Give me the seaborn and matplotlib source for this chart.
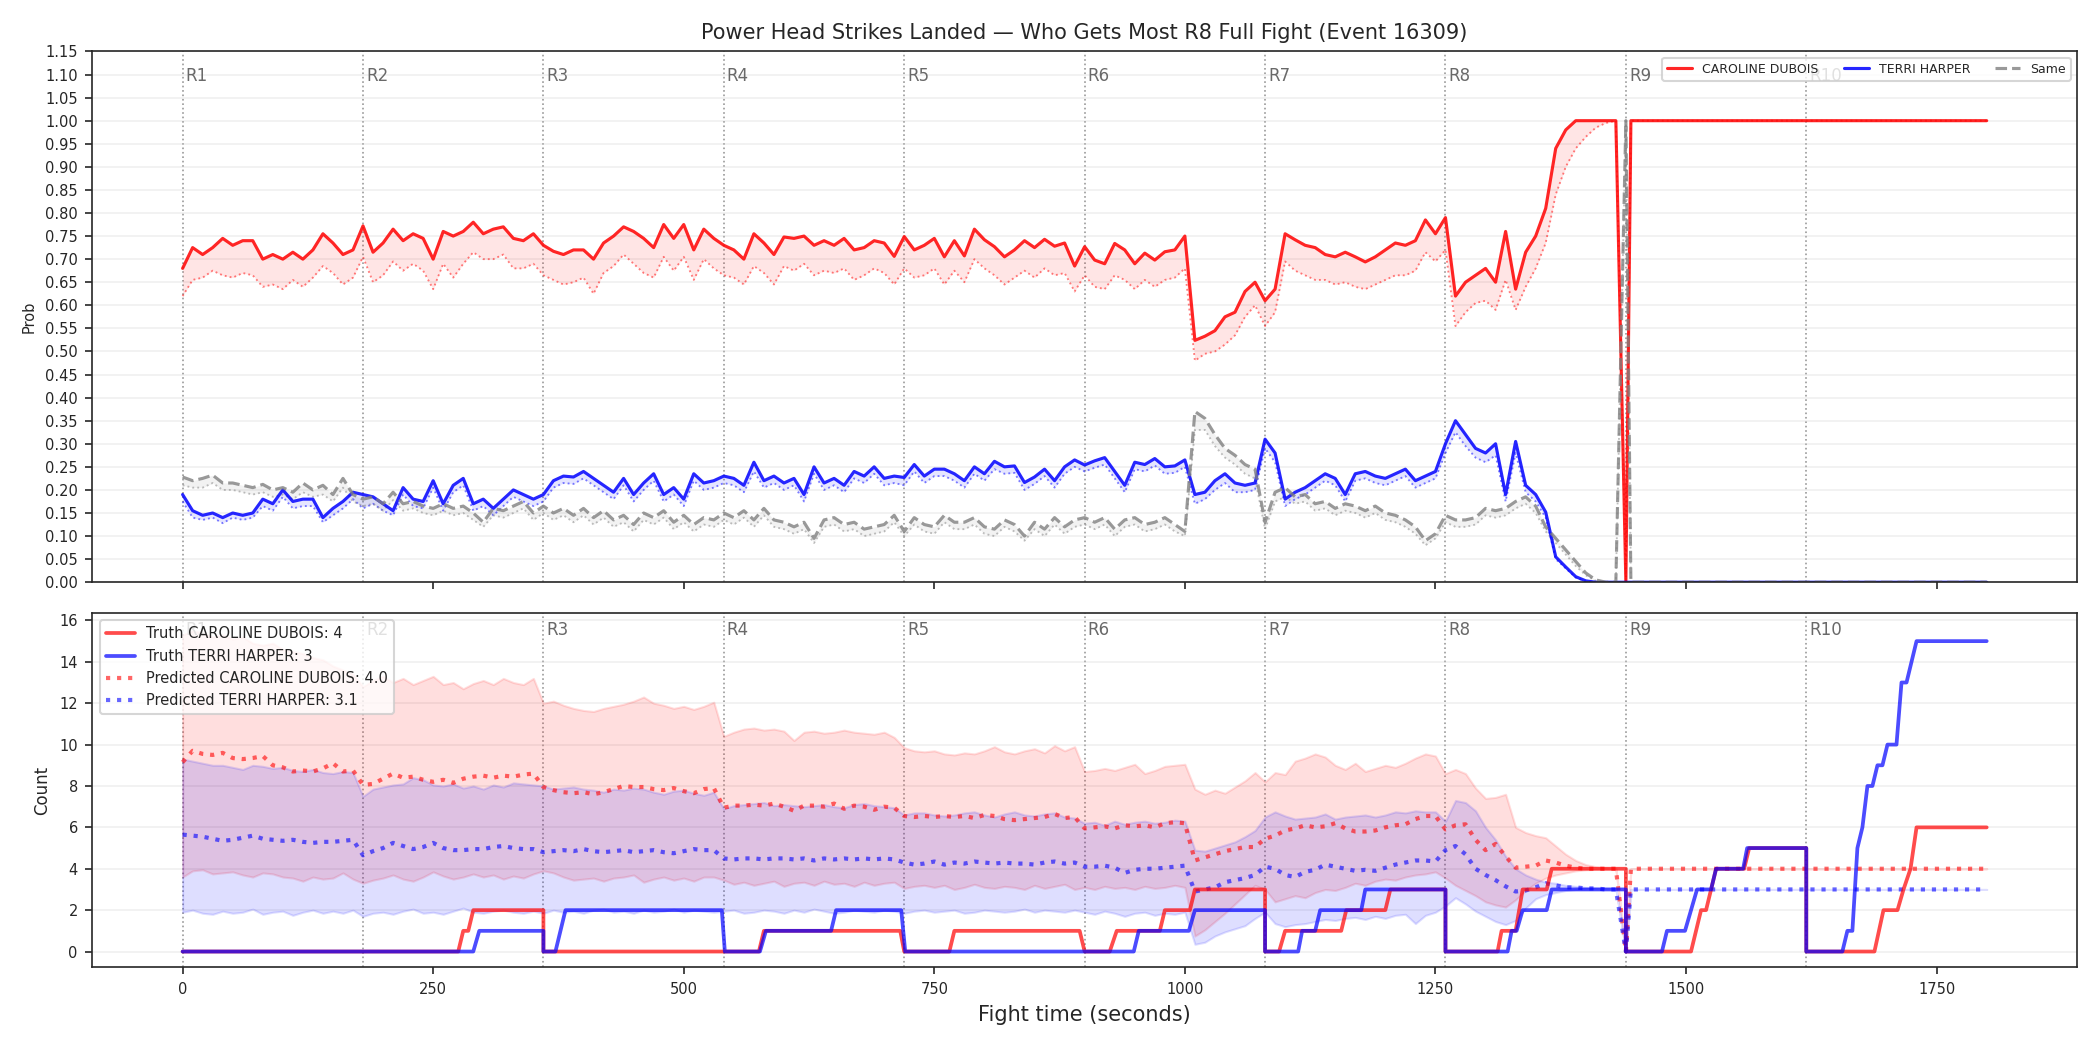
import numpy as np
import pandas as pd
import matplotlib
matplotlib.use("Agg")
import matplotlib.pyplot as plt
import matplotlib.transforms as mtransforms
from matplotlib.lines import Line2D
import seaborn as sns

# ---------------- data ----------------
TITLE = "Power Head Strikes Landed \u2014 Who Gets Most R8 Full Fight (Event 16309)"
FIGHTER_A = "CAROLINE DUBOIS"
FIGHTER_B = "TERRI HARPER"
SAME_LABEL = "Same"
TRUTH_FINAL_A = 4
TRUTH_FINAL_B = 3
PRED_FINAL_A = 4.0
PRED_FINAL_B = 3.1

round_labels = ["R1", "R2", "R3", "R4", "R5", "R6", "R7", "R8", "R9", "R10"]
round_starts = [0, 180, 360, 540, 720, 900, 1080, 1260, 1440, 1620]

# sample times (seconds): every 10 s up to 1440, then the settled tail
sample_times = list(range(0, 1441, 10)) + [1445, 1800]

# --- top panel: probabilities ---
prob_a = [
    0.68, 0.725, 0.71, 0.725, 0.745, 0.73, 0.74, 0.74, 0.70, 0.71, 0.70, 0.715, 0.70, 0.72, 0.755, 0.735, 0.71, 0.72,
    0.772, 0.715, 0.735, 0.765, 0.74, 0.755, 0.745, 0.70, 0.76, 0.75, 0.76, 0.78, 0.755, 0.765, 0.77, 0.745, 0.74, 0.755,
    0.73, 0.717, 0.71, 0.72, 0.72, 0.70, 0.735, 0.75, 0.77, 0.76, 0.745, 0.725, 0.775, 0.745, 0.775, 0.72, 0.765, 0.745,
    0.73, 0.72, 0.70, 0.755, 0.735, 0.71, 0.748, 0.745, 0.75, 0.73, 0.74, 0.73, 0.745, 0.72, 0.725, 0.74, 0.735, 0.706,
    0.749, 0.72, 0.73, 0.745, 0.705, 0.74, 0.707, 0.765, 0.742, 0.727, 0.705, 0.72, 0.74, 0.725, 0.743, 0.728, 0.735, 0.685,
    0.727, 0.698, 0.69, 0.734, 0.72, 0.69, 0.713, 0.698, 0.716, 0.72, 0.75, 0.524, 0.533, 0.545, 0.575, 0.585, 0.63, 0.65,
    0.61, 0.635, 0.755, 0.742, 0.73, 0.725, 0.71, 0.705, 0.715, 0.705, 0.694, 0.705, 0.72, 0.735, 0.73, 0.74, 0.785, 0.755,
    0.79, 0.62, 0.65, 0.665, 0.68, 0.65, 0.76, 0.635, 0.715, 0.75, 0.81, 0.94, 0.98, 1.0, 1.0, 1.0, 1.0, 1.0, 0.0,
    1.0, 1.0]
prob_a_low = [
    0.62, 0.655, 0.66, 0.675, 0.665, 0.66, 0.67, 0.665, 0.64, 0.645, 0.635, 0.655, 0.64, 0.66, 0.685, 0.67, 0.645, 0.66,
    0.705, 0.65, 0.665, 0.695, 0.675, 0.69, 0.675, 0.635, 0.69, 0.66, 0.69, 0.715, 0.70, 0.70, 0.71, 0.68, 0.68, 0.69,
    0.665, 0.655, 0.645, 0.65, 0.66, 0.625, 0.67, 0.685, 0.71, 0.69, 0.67, 0.66, 0.705, 0.675, 0.705, 0.655, 0.70, 0.68,
    0.665, 0.66, 0.645, 0.685, 0.67, 0.645, 0.685, 0.675, 0.69, 0.665, 0.675, 0.67, 0.68, 0.655, 0.665, 0.68, 0.67, 0.645,
    0.68, 0.66, 0.665, 0.68, 0.645, 0.675, 0.65, 0.70, 0.68, 0.665, 0.645, 0.66, 0.675, 0.66, 0.68, 0.665, 0.67, 0.63,
    0.665, 0.64, 0.635, 0.665, 0.655, 0.635, 0.655, 0.64, 0.655, 0.66, 0.68, 0.48, 0.495, 0.50, 0.515, 0.535, 0.575, 0.60,
    0.555, 0.585, 0.695, 0.675, 0.665, 0.655, 0.655, 0.645, 0.65, 0.64, 0.635, 0.645, 0.655, 0.665, 0.665, 0.675, 0.715, 0.695,
    0.72, 0.555, 0.585, 0.605, 0.61, 0.59, 0.655, 0.59, 0.64, 0.68, 0.735, 0.84, 0.90, 0.94, 0.965, 0.985, 0.995, 1.0, 0.0,
    1.0, 1.0]
prob_b = [
    0.19, 0.155, 0.145, 0.15, 0.14, 0.15, 0.145, 0.15, 0.18, 0.17, 0.20, 0.175, 0.18, 0.18, 0.14, 0.16, 0.175, 0.195,
    0.19, 0.185, 0.17, 0.155, 0.205, 0.18, 0.175, 0.22, 0.17, 0.21, 0.225, 0.17, 0.18, 0.16, 0.18, 0.20, 0.19, 0.18,
    0.19, 0.22, 0.23, 0.228, 0.24, 0.225, 0.21, 0.195, 0.225, 0.19, 0.215, 0.235, 0.19, 0.205, 0.18, 0.235, 0.215, 0.22,
    0.23, 0.225, 0.21, 0.26, 0.22, 0.23, 0.215, 0.225, 0.19, 0.25, 0.215, 0.225, 0.21, 0.24, 0.23, 0.25, 0.225, 0.23,
    0.227, 0.255, 0.23, 0.245, 0.245, 0.235, 0.22, 0.25, 0.235, 0.262, 0.25, 0.252, 0.216, 0.228, 0.245, 0.22, 0.25, 0.265,
    0.254, 0.263, 0.27, 0.24, 0.21, 0.26, 0.255, 0.268, 0.25, 0.252, 0.265, 0.19, 0.195, 0.22, 0.235, 0.215, 0.21, 0.215,
    0.31, 0.28, 0.18, 0.195, 0.205, 0.22, 0.235, 0.225, 0.19, 0.235, 0.24, 0.23, 0.225, 0.235, 0.245, 0.22, 0.23, 0.24,
    0.30, 0.35, 0.32, 0.29, 0.28, 0.30, 0.19, 0.305, 0.21, 0.19, 0.152, 0.055, 0.033, 0.012, 0.003, 0.0, 0.0, 0.0, 0.0,
    0.0, 0.0]
prob_b_low = [
    0.175, 0.14, 0.135, 0.14, 0.128, 0.14, 0.135, 0.14, 0.165, 0.155, 0.185, 0.16, 0.165, 0.165, 0.13, 0.145, 0.16, 0.18,
    0.16, 0.17, 0.155, 0.145, 0.19, 0.165, 0.16, 0.205, 0.155, 0.195, 0.21, 0.155, 0.165, 0.145, 0.165, 0.185, 0.175, 0.165,
    0.175, 0.205, 0.215, 0.213, 0.225, 0.21, 0.195, 0.18, 0.21, 0.175, 0.20, 0.22, 0.175, 0.19, 0.165, 0.22, 0.20, 0.205,
    0.215, 0.21, 0.195, 0.24, 0.205, 0.215, 0.20, 0.21, 0.175, 0.235, 0.20, 0.21, 0.195, 0.225, 0.215, 0.235, 0.21, 0.215,
    0.21, 0.24, 0.215, 0.23, 0.23, 0.22, 0.205, 0.235, 0.22, 0.245, 0.235, 0.237, 0.20, 0.213, 0.23, 0.205, 0.235, 0.25,
    0.24, 0.248, 0.255, 0.225, 0.195, 0.245, 0.24, 0.253, 0.235, 0.237, 0.25, 0.17, 0.18, 0.20, 0.215, 0.195, 0.195, 0.20,
    0.29, 0.26, 0.165, 0.18, 0.19, 0.205, 0.22, 0.21, 0.175, 0.22, 0.225, 0.215, 0.21, 0.22, 0.23, 0.205, 0.215, 0.225,
    0.28, 0.325, 0.295, 0.27, 0.26, 0.275, 0.175, 0.28, 0.195, 0.175, 0.14, 0.05, 0.03, 0.01, 0.002, 0.0, 0.0, 0.0, 0.0,
    0.0, 0.0]
prob_same = [
    0.228, 0.22, 0.225, 0.232, 0.215, 0.215, 0.21, 0.205, 0.212, 0.20, 0.205, 0.195, 0.215, 0.20, 0.21, 0.19, 0.225, 0.19,
    0.18, 0.185, 0.17, 0.195, 0.17, 0.175, 0.165, 0.16, 0.17, 0.16, 0.165, 0.15, 0.13, 0.16, 0.155, 0.165, 0.175, 0.15,
    0.165, 0.15, 0.16, 0.145, 0.16, 0.14, 0.155, 0.135, 0.145, 0.125, 0.15, 0.14, 0.155, 0.13, 0.145, 0.125, 0.14, 0.135,
    0.15, 0.14, 0.155, 0.135, 0.16, 0.135, 0.13, 0.12, 0.13, 0.095, 0.135, 0.14, 0.125, 0.13, 0.115, 0.12, 0.125, 0.145,
    0.11, 0.14, 0.125, 0.12, 0.145, 0.13, 0.13, 0.14, 0.12, 0.115, 0.135, 0.125, 0.10, 0.13, 0.115, 0.14, 0.12, 0.135,
    0.14, 0.13, 0.14, 0.115, 0.135, 0.14, 0.125, 0.13, 0.14, 0.125, 0.11, 0.37, 0.355, 0.32, 0.29, 0.275, 0.255, 0.245,
    0.13, 0.195, 0.205, 0.185, 0.19, 0.17, 0.175, 0.16, 0.17, 0.165, 0.155, 0.165, 0.15, 0.145, 0.135, 0.12, 0.09, 0.105,
    0.145, 0.135, 0.135, 0.14, 0.16, 0.155, 0.16, 0.175, 0.185, 0.165, 0.12, 0.095, 0.07, 0.045, 0.02, 0.005, 0.0, 0.0, 1.0,
    0.0, 0.0]
prob_same_low = [
    0.21, 0.205, 0.205, 0.215, 0.20, 0.20, 0.195, 0.19, 0.195, 0.185, 0.19, 0.18, 0.195, 0.185, 0.19, 0.175, 0.205, 0.175,
    0.165, 0.17, 0.155, 0.178, 0.155, 0.16, 0.15, 0.145, 0.155, 0.145, 0.15, 0.135, 0.12, 0.145, 0.14, 0.15, 0.16, 0.135,
    0.15, 0.135, 0.145, 0.13, 0.145, 0.125, 0.14, 0.12, 0.13, 0.11, 0.135, 0.125, 0.14, 0.115, 0.13, 0.11, 0.125, 0.12,
    0.135, 0.125, 0.14, 0.12, 0.145, 0.12, 0.115, 0.105, 0.115, 0.085, 0.12, 0.125, 0.11, 0.115, 0.10, 0.105, 0.11, 0.13,
    0.10, 0.125, 0.11, 0.105, 0.13, 0.115, 0.115, 0.125, 0.105, 0.10, 0.12, 0.11, 0.09, 0.115, 0.10, 0.125, 0.105, 0.12,
    0.125, 0.115, 0.125, 0.10, 0.12, 0.125, 0.11, 0.115, 0.125, 0.11, 0.10, 0.33, 0.33, 0.295, 0.27, 0.255, 0.235, 0.225,
    0.115, 0.175, 0.185, 0.17, 0.175, 0.155, 0.16, 0.145, 0.155, 0.15, 0.14, 0.15, 0.135, 0.13, 0.12, 0.105, 0.08, 0.095,
    0.13, 0.12, 0.12, 0.125, 0.145, 0.14, 0.145, 0.16, 0.17, 0.15, 0.11, 0.085, 0.06, 0.035, 0.015, 0.003, 0.0, 0.0, 1.0,
    0.0, 0.0]

# --- bottom panel: counts ---
pred_a = [
    9.15, 9.7, 9.55, 9.5, 9.6, 9.35, 9.3, 9.35, 9.45, 9.0, 8.9, 8.7, 8.75, 8.7, 8.85, 9.1, 8.7, 8.75,
    8.05, 8.1, 8.35, 8.6, 8.4, 8.45, 8.3, 8.2, 8.3, 8.15, 8.35, 8.45, 8.5, 8.4, 8.5, 8.45, 8.55, 8.6,
    7.95, 7.8, 7.7, 7.65, 7.7, 7.6, 7.7, 7.85, 8.0, 7.95, 7.95, 7.85, 7.8, 7.9, 7.75, 7.65, 7.85, 7.9,
    6.95, 7.05, 7.05, 7.1, 7.05, 7.15, 7.0, 6.8, 7.05, 7.05, 7.0, 7.15, 6.9, 7.05, 7.0, 6.85, 7.0, 6.95,
    6.55, 6.5, 6.55, 6.5, 6.55, 6.5, 6.55, 6.45, 6.6, 6.55, 6.4, 6.35, 6.4, 6.45, 6.5, 6.65, 6.45, 6.5,
    5.95, 6.0, 6.05, 5.95, 6.1, 6.05, 6.1, 6.0, 6.2, 6.25, 6.2, 4.4, 4.55, 4.7, 4.85, 4.95, 5.05, 5.05,
    5.45, 5.6, 5.85, 5.95, 6.1, 6.0, 6.05, 6.2, 5.95, 5.8, 5.8, 5.85, 6.0, 6.1, 6.15, 6.4, 6.55, 6.55,
    5.9, 6.1, 6.15, 5.4, 4.9, 5.2, 4.6, 4.05, 4.1, 4.15, 4.4, 4.3, 4.15, 4.05, 4.0, 4.0, 4.0, 4.0, 0.0,
    4.0, 4.0]
pred_b = [
    5.65, 5.6, 5.55, 5.45, 5.35, 5.4, 5.5, 5.6, 5.45, 5.4, 5.35, 5.4, 5.3, 5.25, 5.3, 5.3, 5.35, 5.4,
    4.65, 4.85, 5.0, 5.25, 5.1, 4.95, 5.05, 5.25, 5.0, 4.9, 4.9, 4.95, 4.95, 5.05, 5.1, 5.0, 4.95, 4.95,
    4.8, 4.85, 4.9, 4.85, 4.95, 4.85, 4.8, 4.85, 4.9, 4.8, 4.85, 4.9, 4.8, 4.75, 4.85, 4.95, 4.9, 4.9,
    4.5, 4.45, 4.5, 4.5, 4.45, 4.5, 4.5, 4.45, 4.5, 4.4, 4.5, 4.45, 4.5, 4.45, 4.5, 4.45, 4.5, 4.45,
    4.3, 4.2, 4.25, 4.35, 4.2, 4.3, 4.25, 4.35, 4.3, 4.25, 4.3, 4.25, 4.25, 4.2, 4.3, 4.35, 4.25, 4.3,
    4.1, 4.1, 4.15, 4.05, 3.8, 3.95, 4.0, 4.0, 4.05, 4.1, 4.15, 2.9, 3.0, 3.1, 3.35, 3.45, 3.55, 3.7,
    4.1, 4.0, 3.7, 3.6, 3.85, 3.95, 4.2, 4.1, 4.0, 3.9, 3.95, 3.9, 4.05, 4.2, 4.3, 4.4, 4.4, 4.35,
    4.9, 5.1, 4.7, 4.0, 3.7, 3.45, 3.15, 2.9, 2.95, 3.1, 3.3, 3.2, 3.1, 3.1, 3.05, 3.05, 3.0, 3.0, 0.0,
    3.0, 3.0]
band_a_hi = [
    15.3, 15.5, 15.4, 15.2, 15.3, 15.1, 15.2, 14.9, 14.8, 14.9, 14.6, 14.5, 14.4, 14.2, 14.1, 13.8, 13.6, 13.4,
    12.8, 13.1, 13.3, 13.0, 13.2, 12.9, 13.1, 13.3, 12.9, 13.0, 12.7, 12.95, 13.1, 12.9, 13.2, 13.0, 12.9, 13.2,
    12.0, 12.1, 11.9, 11.75, 11.65, 11.6, 11.75, 11.85, 11.95, 12.1, 12.3, 12.0, 11.9, 11.75, 11.85, 11.7, 11.85, 12.05,
    10.4, 10.6, 10.75, 10.8, 10.7, 10.75, 10.65, 10.2, 10.6, 10.65, 10.55, 10.6, 10.7, 10.6, 10.55, 10.5, 10.6, 10.35,
    9.85, 9.7, 9.65, 9.7, 9.55, 9.5, 9.6, 9.55, 9.7, 9.9, 9.65, 9.55, 9.7, 9.8, 9.6, 9.95, 9.7, 9.9,
    8.7, 8.75, 8.85, 8.75, 8.9, 9.05, 8.6, 8.75, 8.95, 9.0, 9.05, 7.85, 7.6, 7.8, 7.65, 7.95, 8.25, 8.65,
    8.2, 8.65, 8.55, 9.2, 9.35, 9.55, 9.4, 9.0, 8.8, 9.1, 8.7, 8.85, 9.0, 8.9, 9.1, 9.35, 9.55, 9.45,
    8.6, 8.8, 8.6, 7.9, 7.4, 7.45, 7.6, 6.0, 5.75, 5.6, 5.5, 5.1, 4.7, 4.4, 4.2, 4.1, 4.05, 4.02, 0.0,
    4.0, 4.0]
band_a_lo = [
    3.6, 3.9, 3.95, 3.75, 3.8, 3.85, 3.7, 3.6, 3.8, 3.75, 3.6, 3.55, 3.4, 3.6, 3.5, 3.55, 3.8, 3.5,
    3.3, 3.45, 3.55, 3.7, 3.5, 3.4, 3.6, 3.85, 3.65, 3.5, 3.6, 3.75, 3.6, 3.7, 3.5, 3.65, 3.55, 3.75,
    3.9, 3.8, 3.6, 3.45, 3.5, 3.55, 3.4, 3.55, 3.6, 3.7, 3.35, 3.5, 3.6, 3.45, 3.55, 3.4, 3.6, 3.6,
    3.45, 3.25, 3.35, 3.2, 3.3, 3.4, 3.15, 3.3, 3.35, 3.2, 3.4, 3.25, 3.3, 3.15, 3.35, 3.2, 3.3, 3.35,
    3.05, 3.15, 3.2, 3.1, 3.2, 3.0, 3.1, 3.25, 3.1, 3.05, 3.15, 3.1, 3.0, 3.2, 3.05, 3.15, 3.25, 3.0,
    3.1, 3.0, 3.15, 3.05, 3.1, 3.0, 3.15, 3.05, 3.1, 3.2, 3.1, 0.75, 1.05, 1.45, 1.85, 2.3, 2.75, 3.2,
    3.0, 2.4, 2.55, 2.7, 2.6, 2.85, 3.0, 2.95, 3.1, 3.3, 3.2, 3.4, 3.5, 3.45, 3.6, 3.7, 3.75, 3.85,
    3.55, 3.2, 2.95, 2.7, 2.4, 2.25, 2.15, 2.5, 2.95, 3.3, 3.55, 3.7, 3.8, 3.9, 3.95, 3.97, 3.98, 3.99, 0.0,
    4.0, 4.0]
band_b_hi = [
    9.3, 9.2, 9.1, 9.0, 9.0, 8.9, 8.8, 9.0, 8.95, 8.85, 8.9, 8.75, 8.7, 8.8, 8.65, 8.6, 8.7, 8.65,
    7.5, 7.85, 7.95, 8.05, 8.1, 8.4, 8.3, 8.05, 8.0, 8.1, 7.9, 8.0, 7.85, 8.05, 7.95, 8.15, 8.1, 8.05,
    8.0, 7.85, 7.9, 7.95, 7.85, 7.8, 7.7, 7.85, 7.8, 7.9, 7.85, 7.7, 7.6, 7.75, 7.8, 7.65, 7.55, 7.7,
    6.9, 7.05, 7.1, 7.15, 7.2, 7.05, 7.1, 7.05, 7.0, 7.05, 7.1, 7.0, 6.95, 7.1, 7.15, 7.05, 7.0, 6.95,
    6.6, 6.7, 6.7, 6.6, 6.55, 6.6, 6.7, 6.75, 6.6, 6.5, 6.65, 6.75, 6.6, 6.55, 6.65, 6.7, 6.5, 6.45,
    6.2, 6.25, 6.1, 6.3, 6.15, 6.25, 6.3, 6.2, 6.25, 6.35, 6.3, 4.9, 4.85, 5.0, 5.15, 5.3, 5.55, 5.85,
    6.5, 6.75, 6.55, 6.4, 6.45, 6.5, 6.65, 6.4, 6.5, 6.55, 6.6, 6.5, 6.6, 6.75, 6.7, 6.8, 6.75, 6.75,
    6.3, 7.3, 7.2, 6.8, 6.0, 5.4, 4.6, 4.0, 3.7, 3.5, 3.35, 3.3, 3.2, 3.15, 3.1, 3.08, 3.06, 3.05, 0.0,
    3.0, 3.0]
band_b_lo = [
    1.9, 2.0, 1.85, 1.8, 1.95, 1.85, 1.9, 2.05, 1.8, 1.9, 1.95, 1.75, 1.9, 2.0, 1.85, 1.95, 1.85, 2.0,
    1.7, 1.85, 1.9, 1.8, 1.95, 2.05, 1.85, 1.9, 1.8, 1.95, 2.1, 1.9, 1.85, 1.95, 2.0, 1.9, 1.85, 1.95,
    1.85, 2.0, 1.9, 1.95, 1.85, 2.0, 2.05, 1.9, 1.95, 1.85, 2.0, 1.9, 1.95, 2.05, 1.9, 2.0, 1.95, 1.9,
    1.95, 2.0, 1.85, 1.9, 2.0, 1.95, 1.85, 2.0, 1.9, 2.05, 1.95, 1.85, 1.9, 2.0, 1.95, 1.9, 2.0, 1.95,
    1.85, 1.95, 2.0, 1.9, 1.95, 2.0, 1.85, 1.9, 2.0, 1.95, 1.9, 1.95, 2.05, 1.9, 2.0, 1.95, 1.9, 2.0,
    1.9, 1.8, 1.95, 1.85, 1.7, 1.85, 1.9, 1.75, 1.85, 1.8, 1.9, 0.35, 0.45, 0.75, 0.95, 1.1, 1.25, 1.6,
    1.9, 1.35, 1.2, 1.3, 1.35, 1.45, 1.55, 1.5, 1.6, 1.65, 1.55, 1.7, 1.6, 1.75, 1.8, 1.35, 1.75, 1.9,
    2.2, 2.6, 2.3, 1.95, 1.7, 1.45, 1.3, 1.5, 2.1, 2.55, 2.75, 2.85, 2.95, 3.0, 3.02, 3.03, 3.04, 3.05, 0.0,
    3.0, 3.0]

# truth counts (per round, reset at each round start): breakpoints
truth_a_t = [0, 275, 280, 285, 290, 360, 360, 575, 580, 716, 720, 765, 770, 895, 900, 925, 932, 975, 980,
             1005, 1010, 1080, 1080, 1094, 1100, 1156, 1161, 1200, 1205, 1260, 1260, 1312, 1316, 1330, 1337,
             1361, 1366, 1440, 1440, 1505, 1510, 1515, 1520, 1525, 1530, 1558, 1563, 1620, 1620, 1688, 1697,
             1711, 1717, 1724, 1730, 1800]
truth_a_v = [0, 0, 1, 1, 2, 2, 0, 0, 1, 1, 0, 0, 1, 1, 0, 0, 1, 1, 2,
             2, 3, 3, 0, 0, 1, 1, 2, 2, 3, 3, 0, 0, 1, 1, 3,
             3, 4, 4, 0, 0, 1, 2, 2, 3, 4, 4, 5, 5, 0, 0, 2,
             2, 3, 4, 6, 6]
truth_b_t = [0, 290, 296, 360, 360, 372, 382, 538, 541, 576, 582, 647, 652, 717, 721, 949, 954, 1004, 1010,
             1080, 1080, 1113, 1117, 1130, 1135, 1176, 1180, 1260, 1260, 1322, 1326, 1331, 1337, 1361, 1366,
             1440, 1440, 1476, 1481, 1499, 1505, 1511, 1525, 1530, 1557, 1561, 1620, 1620, 1656, 1661, 1666,
             1671, 1676, 1681, 1686, 1691, 1696, 1701, 1710, 1715, 1720, 1730, 1800]
truth_b_v = [0, 0, 1, 1, 0, 0, 2, 2, 0, 0, 1, 1, 2, 2, 0, 0, 1, 1, 2,
             2, 0, 0, 1, 1, 2, 2, 3, 3, 0, 0, 1, 1, 2, 2, 3,
             3, 0, 0, 1, 1, 2, 3, 3, 4, 4, 5, 5, 0, 0, 1, 1,
             5, 6, 8, 8, 9, 9, 10, 10, 13, 13, 15, 15]

# ---------------- plotting ----------------
sns.set_style("ticks")
plt.rcParams["font.family"] = ["DejaVu Sans"]

RED, BLUE, GRAY = "red", "blue", "gray"

top = pd.DataFrame({"t": sample_times, "a": prob_a, "a_low": prob_a_low,
                    "b": prob_b, "b_low": prob_b_low, "s": prob_same, "s_low": prob_same_low})
bot = pd.DataFrame({"t": sample_times, "pa": pred_a, "pb": pred_b,
                    "a_hi": band_a_hi, "a_lo": band_a_lo, "b_hi": band_b_hi, "b_lo": band_b_lo})
tru_a = pd.DataFrame({"t": truth_a_t, "v": truth_a_v})
tru_b = pd.DataFrame({"t": truth_b_t, "v": truth_b_v})

fig, (ax1, ax2) = plt.subplots(2, 1, figsize=(14, 7), dpi=150, sharex=True,
                               gridspec_kw={"height_ratios": [1.5, 1]})
fig.subplots_adjust(left=0.044, right=0.989, top=0.951, bottom=0.079, hspace=0.07)

# ----- top panel -----
for col, low, color in [("a", "a_low", RED), ("b", "b_low", BLUE), ("s", "s_low", GRAY)]:
    ax1.fill_between(top["t"], top[low], top[col], color=color, alpha=0.1, lw=0)
    sns.lineplot(data=top, x="t", y=low, ax=ax1, color=color, lw=0.9, alpha=0.5,
                 linestyle=":", estimator=None, sort=False, legend=False)
sns.lineplot(data=top, x="t", y="a", ax=ax1, color=RED, lw=1.5, alpha=0.85,
             estimator=None, sort=False, legend=False)
sns.lineplot(data=top, x="t", y="b", ax=ax1, color=BLUE, lw=1.5, alpha=0.85,
             estimator=None, sort=False, legend=False)
sns.lineplot(data=top, x="t", y="s", ax=ax1, color=GRAY, lw=1.5, alpha=0.8,
             linestyle="--", estimator=None, sort=False, legend=False)

ax1.set_ylim(0, 1.15)
ax1.set_yticks(np.round(np.arange(0, 1.151, 0.05), 2))
ax1.yaxis.set_major_formatter(matplotlib.ticker.FormatStrFormatter("%.2f"))
ax1.set_ylabel("Prob", fontsize=7)
ax1.set_xlabel("")
ax1.set_title(TITLE, fontsize=10)
ax1.grid(axis="y", alpha=0.3)

top_handles = [Line2D([], [], color=RED, lw=1.5, alpha=0.85),
               Line2D([], [], color=BLUE, lw=1.5, alpha=0.85),
               Line2D([], [], color=GRAY, lw=1.5, alpha=0.8, linestyle="--")]
ax1.legend(top_handles, [FIGHTER_A, FIGHTER_B, SAME_LABEL], loc="upper right",
           ncol=3, fontsize=6, framealpha=0.8)

# ----- bottom panel -----
ax2.fill_between(bot["t"], bot["a_lo"], bot["a_hi"], color=RED, alpha=0.13)
ax2.fill_between(bot["t"], bot["b_lo"], bot["b_hi"], color=BLUE, alpha=0.13)
sns.lineplot(data=bot, x="t", y="pa", ax=ax2, color=RED, lw=2, alpha=0.6, linestyle=":",
             estimator=None, sort=False, legend=False)
sns.lineplot(data=bot, x="t", y="pb", ax=ax2, color=BLUE, lw=2, alpha=0.6, linestyle=":",
             estimator=None, sort=False, legend=False)
sns.lineplot(data=tru_a, x="t", y="v", ax=ax2, color=RED, lw=1.8, alpha=0.7,
             estimator=None, sort=False, legend=False)
sns.lineplot(data=tru_b, x="t", y="v", ax=ax2, color=BLUE, lw=1.8, alpha=0.7,
             estimator=None, sort=False, legend=False)

ax2.set_ylim(-0.75, 16.35)
ax2.set_yticks([0, 2, 4, 6, 8, 10, 12, 14, 16])
ax2.set_ylabel("Count", fontsize=8)
ax2.set_xlabel("Fight time (seconds)", fontsize=10)
ax2.grid(axis="y", alpha=0.3)
ax2.set_xlim(-90, 1890)
ax2.set_xticks([0, 250, 500, 750, 1000, 1250, 1500, 1750])

bot_handles = [Line2D([], [], color=RED, lw=1.8, alpha=0.7),
               Line2D([], [], color=BLUE, lw=1.8, alpha=0.7),
               Line2D([], [], color=RED, lw=2, alpha=0.6, linestyle=":"),
               Line2D([], [], color=BLUE, lw=2, alpha=0.6, linestyle=":")]
bot_labels = [f"Truth {FIGHTER_A}: {TRUTH_FINAL_A}", f"Truth {FIGHTER_B}: {TRUTH_FINAL_B}",
              f"Predicted {FIGHTER_A}: {PRED_FINAL_A:.1f}", f"Predicted {FIGHTER_B}: {PRED_FINAL_B:.1f}"]
ax2.legend(bot_handles, bot_labels, loc="upper left", fontsize=7, framealpha=0.8)

# round markers
for ax in (ax1, ax2):
    trans = mtransforms.blended_transform_factory(ax.transData, ax.transAxes)
    for lab, rs in zip(round_labels, round_starts):
        ax.axvline(rs, color="gray", linestyle=":", lw=0.8, alpha=0.8, zorder=0.5)
        ax.text(rs + 3, 0.953, lab, transform=trans, fontsize=8, color="dimgray",
                va="center", ha="left")
    ax.tick_params(labelsize=7)

fig.savefig("out.png", dpi=150)
